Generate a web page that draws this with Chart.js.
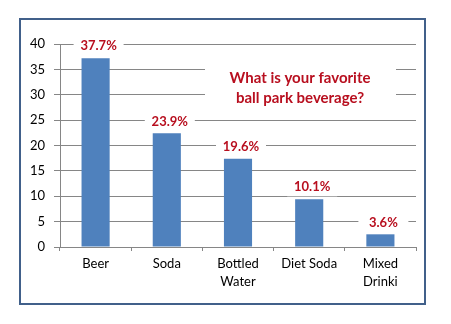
<!DOCTYPE html>
<html>
<head>
<meta charset="utf-8">
<script src="https://cdn.jsdelivr.net/npm/chart.js@4"></script>
<style>
  html, body { margin: 0; padding: 0; background: #fff; }
  #wrap { width: 451px; height: 324px; position: relative; }
</style>
</head>
<body>
<div id="wrap"><canvas id="beverageChart" width="451" height="324"></canvas></div>
<script>
const categories = [['Beer'], ['Soda'], ['Bottled', 'Water'], ['Diet Soda'], ['Mixed', 'Drinki']];
const barValues = [37.2, 22.4, 17.4, 9.4, 2.5];
const percentLabels = ['37.7%', '23.9%', '19.6%', '10.1%', '3.6%'];
const titleLines = ['What is your favorite', 'ball park beverage?'];

const FONT = 'Lato, "Liberation Sans", sans-serif';
const RED = '#B80F1F';

// frame around the chart
const framePlugin = {
    id: 'frame',
    afterDraw(chart) {
        const ctx = chart.ctx;
        ctx.save();
        ctx.strokeStyle = '#41608A';
        ctx.lineWidth = 2;
        ctx.strokeRect(20, 19, 405, 285);
        ctx.restore();
    }
};

// value labels with white background that break the gridlines, plus the in-plot title
const labelPlugin = {
    id: 'pctLabels',
    afterDatasetsDraw(chart) {
        const ctx = chart.ctx;
        const meta = chart.getDatasetMeta(0);
        ctx.save();
        ctx.font = 'bold 13px ' + FONT;
        ctx.textAlign = 'center';
        ctx.textBaseline = 'middle';
        meta.data.forEach((bar, i) => {
            const x = bar.x + 3;
            const y = bar.y - 12;
            ctx.fillStyle = '#fff';
            ctx.fillRect(x - 25, y - 9, 50, 18);
            ctx.fillStyle = RED;
            ctx.fillText(percentLabels[i], x, y);
        });

        // title box
        ctx.fillStyle = '#fff';
        ctx.fillRect(205, 58, 191, 50);
        ctx.font = 'bold 15px ' + FONT;
        ctx.fillStyle = RED;
        ctx.fillText(titleLines[0], 300, 78);
        ctx.fillText(titleLines[1], 300, 98);
        ctx.restore();
    }
};

const ctx = document.getElementById('beverageChart').getContext('2d');
new Chart(ctx, {
    type: 'bar',
    data: {
        labels: categories,
        datasets: [{
            data: barValues,
            backgroundColor: '#4F81BD',
            borderWidth: 0,
            barPercentage: 0.79,
            categoryPercentage: 0.5
        }]
    },
    options: {
        responsive: false,
        animation: false,
        layout: { padding: { left: 0, top: 44, right: 35, bottom: 0 } },
        plugins: {
            legend: { display: false },
            tooltip: { enabled: false }
        },
        scales: {
            x: {
                afterFit: s => { s.height = 77; },
                grid: {
                    offset: true,
                    drawOnChartArea: false,
                    tickLength: 4,
                    color: '#868686'
                },
                border: { color: '#868686' },
                ticks: {
                    color: '#000',
                    padding: 4,
                    maxRotation: 0,
                    autoSkip: false,
                    font: { family: FONT, size: 13, lineHeight: 1.4 }
                }
            },
            y: {
                min: 0,
                max: 40,
                afterFit: s => { s.width = 60; },
                grid: { color: '#868686', tickLength: 6 },
                border: { color: '#868686' },
                ticks: {
                    stepSize: 5,
                    color: '#000',
                    padding: 9,
                    font: { family: FONT, size: 13 }
                }
            }
        }
    },
    plugins: [labelPlugin, framePlugin]
});
</script>
</body>
</html>
